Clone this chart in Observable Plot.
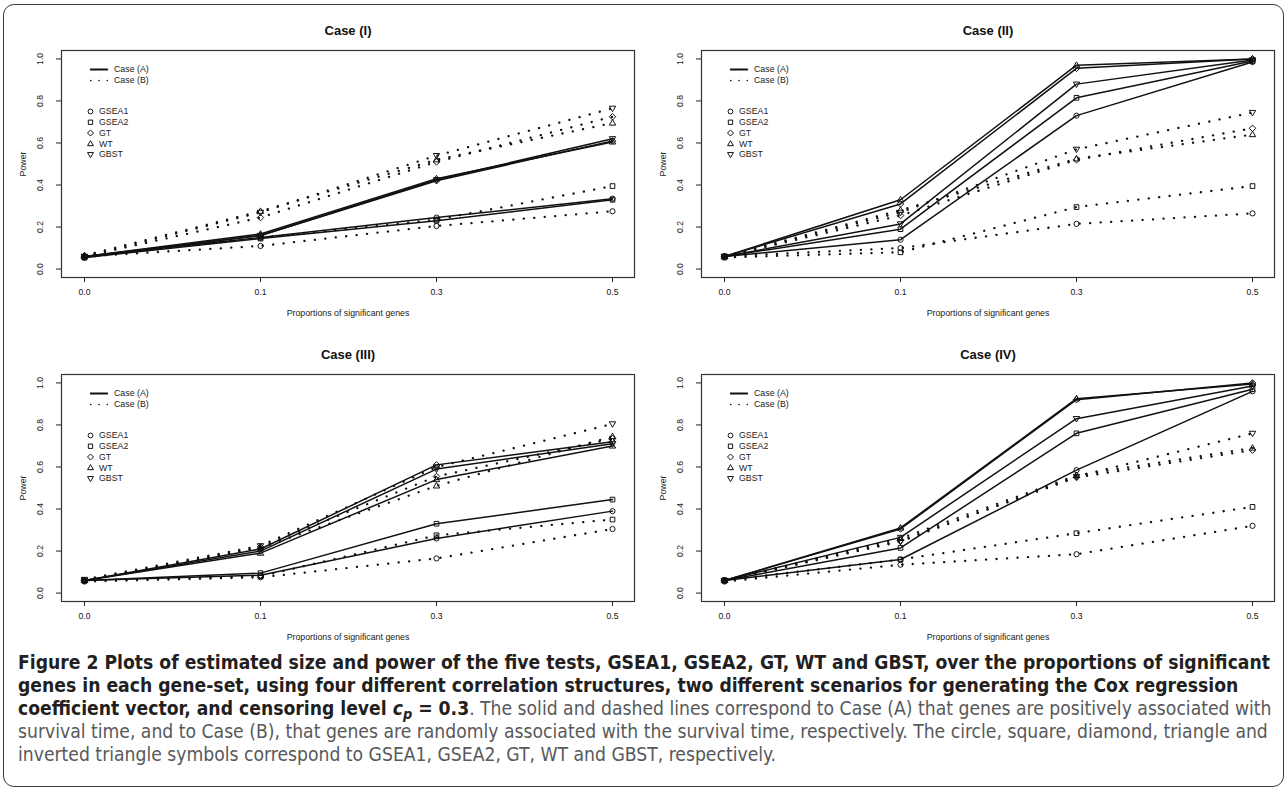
<!DOCTYPE html>
<html>
<head>
<meta charset="utf-8">
<script src="https://cdn.jsdelivr.net/npm/d3@7"></script>
<script src="https://cdn.jsdelivr.net/npm/@observablehq/plot@0.6"></script>
<style>
  html, body { margin: 0; padding: 0; background: #fff; }
  body { width: 1287px; height: 792px; position: relative; overflow: hidden; }
  #frame { position: absolute; left: 3px; top: 4px; width: 1281px; height: 783px; border: 1.5px solid #3a3a3a; border-radius: 11px; box-sizing: border-box; }
  .panel { position: absolute; }
  #caption { position: absolute; left: 18px; top: 651px; font-family: "Liberation Sans Narrow", "DejaVu Sans Condensed", "Liberation Sans", sans-serif; font-size: 16px; line-height: 23px; color: #58595b; white-space: nowrap; }
  #caption b { color: #231f20; }
  #caption sub { font-size: 0.75em; vertical-align: -0.3em; line-height: 0; }
</style>
</head>
<body>
<div id="frame"></div>
<div id="p0" class="panel" style="left:0px;top:0px"></div>
<div id="p1" class="panel" style="left:640px;top:0px"></div>
<div id="p2" class="panel" style="left:0px;top:324px"></div>
<div id="p3" class="panel" style="left:640px;top:324px"></div>
<div id="caption"><span id="line1"><b>Figure 2 Plots of estimated size and power of the five tests, GSEA1, GSEA2, GT, WT and GBST, over the proportions of significant</b></span><br><b>genes in each gene-set, using four different correlation structures, two different scenarios for generating the Cox regression</b><br><b>coefficient vector, and censoring level <i>c<sub>p</sub></i> = 0.3</b>. The solid and dashed lines correspond to Case (A) that genes are positively associated with<br>survival time, and to Case (B), that genes are randomly associated with the survival time, respectively. The circle, square, diamond, triangle and<br>inverted triangle symbols correspond to GSEA1, GSEA2, GT, WT and GBST, respectively.</div>
<script>
// ---------- data ----------
const xLabels = ["0.0", "0.1", "0.3", "0.5"];
const tests = ["GSEA1", "GSEA2", "GT", "WT", "GBST"];
const scenarios = ["Case (A)", "Case (B)"];
const panelTitles = ["Case (I)", "Case (II)", "Case (III)", "Case (IV)"];
const yTicks = [0, 0.2, 0.4, 0.6, 0.8, 1.0];
const xAxisLabel = "Proportions of significant genes";
const yAxisLabel = "Power";

// rows follow `tests` (GSEA1, GSEA2, GT, WT, GBST); columns follow `xLabels`
const caseI_A = [
  [0.060, 0.150, 0.245, 0.335],
  [0.055, 0.145, 0.230, 0.330],
  [0.055, 0.160, 0.420, 0.610],
  [0.060, 0.167, 0.430, 0.605],
  [0.060, 0.160, 0.425, 0.620]
];
const caseI_B = [
  [0.060, 0.110, 0.205, 0.275],
  [0.055, 0.150, 0.235, 0.395],
  [0.060, 0.245, 0.510, 0.725],
  [0.065, 0.275, 0.520, 0.695],
  [0.060, 0.270, 0.540, 0.765]
];
const caseII_A = [
  [0.060, 0.140, 0.730, 0.985],
  [0.060, 0.190, 0.815, 0.990],
  [0.060, 0.310, 0.955, 1.000],
  [0.060, 0.330, 0.970, 1.000],
  [0.060, 0.215, 0.880, 0.995]
];
const caseII_B = [
  [0.060, 0.100, 0.215, 0.265],
  [0.055, 0.080, 0.295, 0.395],
  [0.060, 0.255, 0.520, 0.670],
  [0.060, 0.280, 0.525, 0.640],
  [0.060, 0.270, 0.570, 0.745]
];
const caseIII_A = [
  [0.060, 0.085, 0.260, 0.390],
  [0.060, 0.095, 0.330, 0.445],
  [0.060, 0.210, 0.610, 0.720],
  [0.060, 0.190, 0.540, 0.700],
  [0.060, 0.200, 0.590, 0.710]
];
const caseIII_B = [
  [0.055, 0.075, 0.165, 0.305],
  [0.060, 0.080, 0.275, 0.350],
  [0.060, 0.220, 0.555, 0.735],
  [0.060, 0.215, 0.510, 0.745],
  [0.065, 0.225, 0.600, 0.805]
];
const caseIV_A = [
  [0.060, 0.160, 0.585, 0.960],
  [0.060, 0.215, 0.760, 0.970],
  [0.060, 0.305, 0.920, 1.000],
  [0.060, 0.310, 0.925, 0.995],
  [0.060, 0.265, 0.830, 0.985]
];
const caseIV_B = [
  [0.055, 0.135, 0.185, 0.320],
  [0.060, 0.160, 0.285, 0.410],
  [0.060, 0.250, 0.550, 0.680],
  [0.060, 0.260, 0.560, 0.690],
  [0.060, 0.245, 0.555, 0.760]
];

const panelData = [
  [caseI_A, caseI_B],
  [caseII_A, caseII_B],
  [caseIII_A, caseIII_B],
  [caseIV_A, caseIV_B]
];

// ---------- symbols (R pch 1, 0, 5, 2, 6) ----------
const R = s => Math.sqrt(s / Math.PI);
const symCircle = {draw(c, s) { const r = R(s); c.moveTo(r, 0); c.arc(0, 0, r, 0, 2 * Math.PI); c.closePath(); }};
const symSquare = {draw(c, s) { const r = R(s) * 0.9; c.rect(-r, -r, 2 * r, 2 * r); }};
const symDiamond = {draw(c, s) { const r = R(s) * 1.25; c.moveTo(0, -r); c.lineTo(r, 0); c.lineTo(0, r); c.lineTo(-r, 0); c.closePath(); }};
const symTriUp = {draw(c, s) { const r = R(s) * 1.3; c.moveTo(0, -r); c.lineTo(r * 0.95, r * 0.62); c.lineTo(-r * 0.95, r * 0.62); c.closePath(); }};
const symTriDown = {draw(c, s) { const r = R(s) * 1.3; c.moveTo(0, r); c.lineTo(r * 0.95, -r * 0.62); c.lineTo(-r * 0.95, -r * 0.62); c.closePath(); }};
const symHLine = {draw(c, s) { c.moveTo(-8.3, 0); c.lineTo(8.3, 0); }};
const symbolRange = [symCircle, symSquare, symDiamond, symTriUp, symTriDown];

const FONT = "'Liberation Sans', Arial, Helvetica, sans-serif";

function panel(idx, width, marginLeft, marginRight) {
  const [A, B] = panelData[idx];
  const rows = [];
  [A, B].forEach((mat, si) => {
    mat.forEach((vals, ti) => {
      vals.forEach((v, xi) => rows.push({x: xLabels[xi], y: v, test: tests[ti], scenario: scenarios[si]}));
    });
  });
  const rowsA = rows.filter(d => d.scenario === scenarios[0]);
  const rowsB = rows.filter(d => d.scenario === scenarios[1]);

  const legend = [
    ...scenarios.map((s, i) => Plot.dot([s], {
      frameAnchor: "top-left", dx: 37.5, dy: 19 + 11 * i, r: 3, symbol: symHLine, fill: "none",
      stroke: "#111", strokeWidth: i ? 1.6 : 1.8, strokeDasharray: i ? "0.1,8.2" : null, strokeLinecap: "round"
    })),
    ...scenarios.map((s, i) => Plot.text([s], {
      frameAnchor: "top-left", dx: 52.5, dy: 19 + 11 * i, text: d => d, textAnchor: "start", lineAnchor: "middle", fontSize: 8.8, fill: "#222"
    })),
    ...tests.map((t, i) => Plot.dot([t], {
      frameAnchor: "top-left", dx: 29, dy: 61 + 10.75 * i, r: 2.4, symbol: symbolRange[i], fill: "none", stroke: "#111", strokeWidth: 1
    })),
    ...tests.map((t, i) => Plot.text([t], {
      frameAnchor: "top-left", dx: 37.5, dy: 61 + 10.75 * i, text: d => d, textAnchor: "start", lineAnchor: "middle", fontSize: 8.8, fill: "#222"
    }))
  ];

  return Plot.plot({
    width, height: 324,
    marginLeft, marginRight, marginTop: 50, marginBottom: 47,
    style: {fontFamily: FONT, fontSize: "8.6px", background: "transparent", overflow: "visible", color: "#111"},
    x: {type: "point", domain: xLabels, padding: 0.12, align: 0.5},
    y: {domain: [-0.04, 1.04]},
    symbol: {domain: tests, range: symbolRange},
    marks: [
      Plot.line(rowsA, {x: "x", y: "y", z: "test", stroke: "#111", strokeWidth: 1.5}),
      Plot.line(rowsB, {x: "x", y: "y", z: "test", stroke: "#111", strokeWidth: 2.3, strokeDasharray: "0.1,10.4", strokeLinecap: "round"}),
      Plot.dot(rows, {x: "x", y: "y", symbol: "test", r: 2.6, fill: "none", stroke: "#111", strokeWidth: 1}),
      Plot.frame({stroke: "#333", strokeWidth: 1.2}),
      Plot.axisX({ticks: xLabels, tickSize: 5, tickPadding: 6, label: null, fontSize: 8.6, stroke: "#222"}),
      Plot.axisY({ticks: yTicks, tickSize: 5, tickFormat: () => "", label: null, stroke: "#222"}),
      Plot.text(yTicks, {y: d => d, frameAnchor: "left", dx: -21, rotate: -90, text: d => d.toFixed(1), textAnchor: "middle", lineAnchor: "middle", fontSize: 8.6, fill: "#222"}),
      Plot.text([yAxisLabel], {frameAnchor: "left", dx: -38, rotate: -90, text: d => d, textAnchor: "middle", lineAnchor: "middle", fontSize: 8.8, fill: "#222"}),
      Plot.text([xAxisLabel], {frameAnchor: "bottom", dy: 36, text: d => d, textAnchor: "middle", lineAnchor: "middle", fontSize: 8.8, fill: "#222"}),
      Plot.text([panelTitles[idx]], {frameAnchor: "top", dy: -20, text: d => d, textAnchor: "middle", lineAnchor: "middle", fontSize: 13, fontWeight: "bold", fill: "#111"}),
      ...legend
    ]
  });
}

document.getElementById("p0").appendChild(panel(0, 640, 61, 6));
document.getElementById("p1").appendChild(panel(1, 647, 61, 13));
document.getElementById("p2").appendChild(panel(2, 640, 61, 6));
document.getElementById("p3").appendChild(panel(3, 647, 61, 13));

// fit caption so its first line spans the same width as in the figure
const cap = document.getElementById("caption");
const l1 = document.getElementById("line1");
const w = l1.getBoundingClientRect().width;
if (w > 0) cap.style.fontSize = (16 * 1252 / w).toFixed(2) + "px";
</script>
</body>
</html>
